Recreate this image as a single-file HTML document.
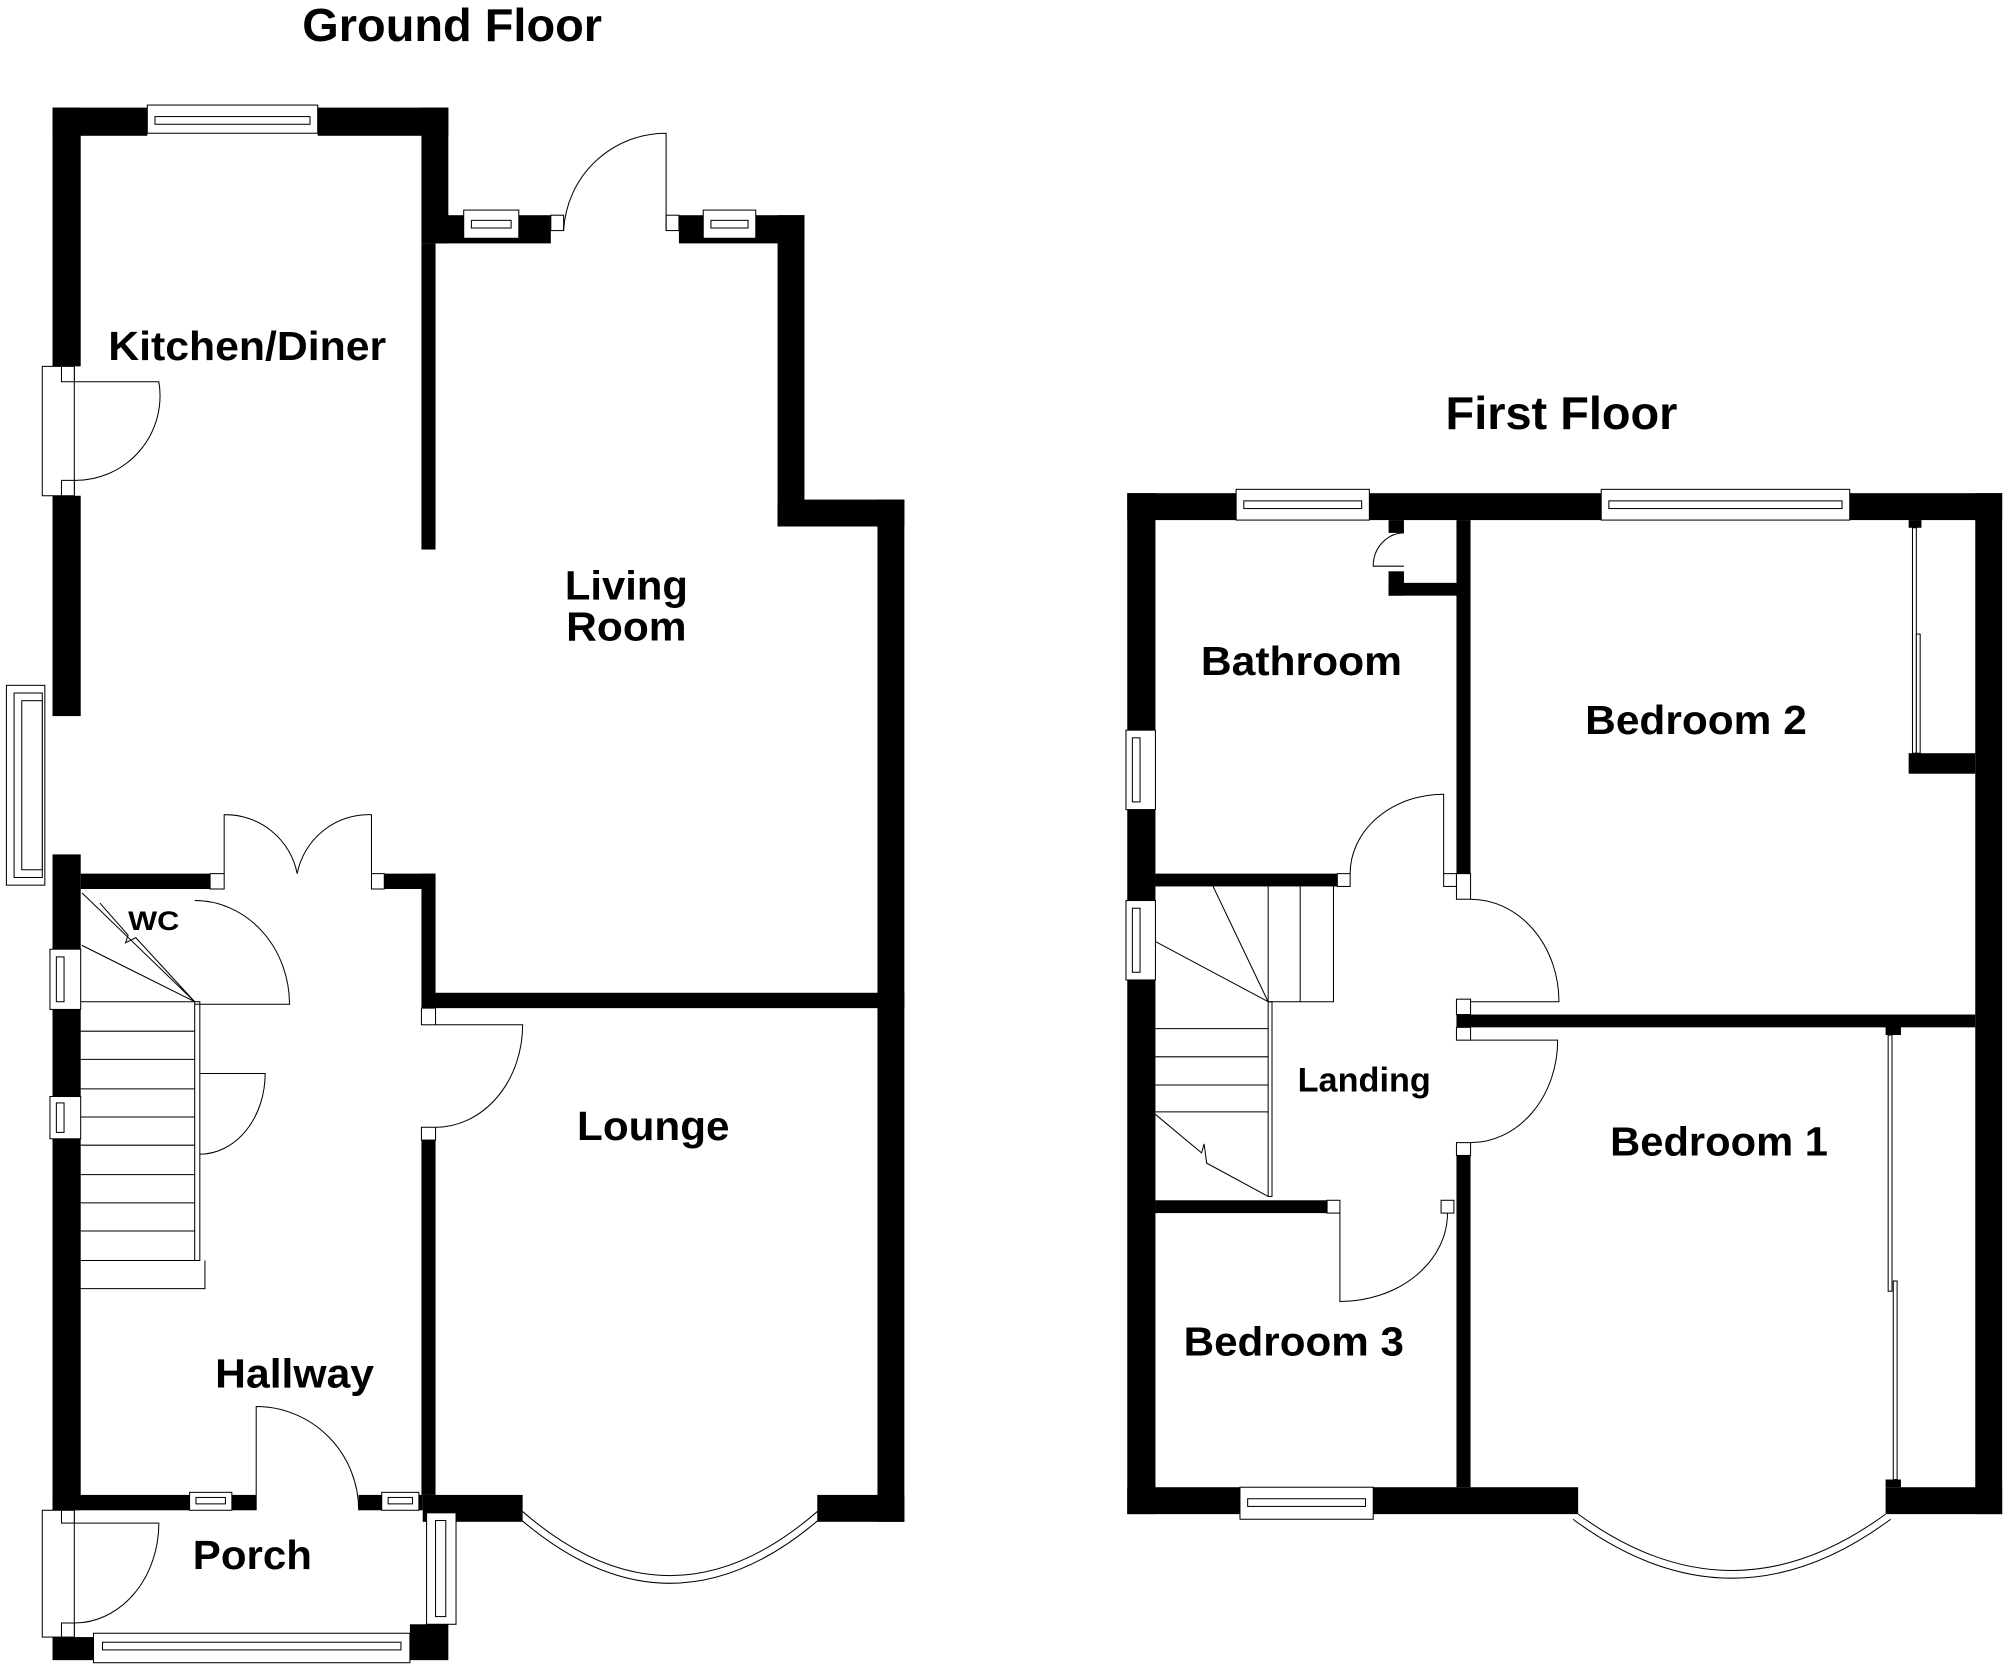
<!DOCTYPE html>
<html><head><meta charset="utf-8"><style>
html,body{margin:0;padding:0;background:#fff}
svg{display:block}
text{font-family:"Liberation Sans",Arial,sans-serif;font-weight:bold;fill:#000}
</style></head><body>
<svg width="2006" height="1664" viewBox="0 0 1566 1299" xmlns="http://www.w3.org/2000/svg">
<g fill="#000">
<rect x="41" y="84" width="74" height="22"/>
<rect x="248" y="84" width="102" height="22"/>
<rect x="41" y="84" width="22" height="202"/>
<rect x="41" y="387" width="22" height="172"/>
<rect x="41" y="667" width="22" height="512"/>
<rect x="329" y="84" width="21" height="106"/>
<rect x="329" y="190" width="11" height="239"/>
<rect x="340" y="168" width="90" height="22"/>
<rect x="530" y="168" width="98" height="22"/>
<rect x="607" y="168" width="21" height="243"/>
<rect x="607" y="390" width="99" height="21"/>
<rect x="685" y="390" width="21" height="798"/>
<rect x="63" y="682" width="102" height="12"/>
<rect x="300" y="682" width="40" height="12"/>
<rect x="329" y="682" width="11" height="105"/>
<rect x="340" y="775" width="366" height="12"/>
<rect x="329" y="880" width="11" height="287"/>
<rect x="41" y="1167" width="159" height="12"/>
<rect x="280" y="1167" width="50" height="12"/>
<rect x="330" y="1167" width="78" height="21"/>
<rect x="638" y="1167" width="68" height="21"/>
<rect x="41" y="1278" width="32" height="18"/>
<rect x="320" y="1268" width="30" height="28"/>
<rect x="880" y="385" width="85" height="21"/>
<rect x="1069" y="385" width="181" height="21"/>
<rect x="1444" y="385" width="119" height="21"/>
<rect x="880" y="385" width="22" height="797"/>
<rect x="1542" y="385" width="21" height="797"/>
<rect x="1137" y="406" width="11" height="276"/>
<rect x="1084" y="406" width="12" height="10"/>
<rect x="1084" y="446" width="12" height="19"/>
<rect x="1084" y="455" width="54" height="10"/>
<rect x="902" y="682" width="143" height="10"/>
<rect x="1137" y="792" width="405" height="10"/>
<rect x="1137" y="902" width="11" height="259"/>
<rect x="902" y="937" width="134" height="10"/>
<rect x="880" y="1161" width="352" height="21"/>
<rect x="1472" y="1161" width="91" height="21"/>
<rect x="1490" y="406" width="10" height="6"/>
<rect x="1490" y="588" width="52" height="16"/>
<rect x="1472" y="801" width="12" height="7"/>
<rect x="1472" y="1155" width="12" height="6"/>
</g>
<g fill="#fff" stroke="#000" stroke-width="0.8">
<rect x="115" y="82" width="133" height="22"/><rect x="121" y="91" width="121" height="6"/>
<rect x="362" y="164" width="43" height="22"/><rect x="368" y="172" width="31" height="6"/>
<rect x="549" y="164" width="41" height="22"/><rect x="555" y="172" width="29" height="6"/>
<rect x="430" y="168" width="10" height="12"/><rect x="520" y="168" width="10" height="12"/>
<rect x="33" y="286" width="25" height="101"/><rect x="48" y="286" width="10" height="12"/><rect x="48" y="375" width="10" height="12"/>
<rect x="5" y="535" width="30" height="156"/><rect x="11" y="541" width="22" height="144"/><rect x="17" y="547" width="16" height="132"/>
<rect x="39" y="741" width="24" height="47"/><rect x="44" y="747" width="6" height="35"/>
<rect x="39" y="856" width="24" height="33"/><rect x="44" y="861" width="6" height="23"/>
<rect x="164" y="682" width="11" height="12"/><rect x="290" y="682" width="10" height="12"/>
<rect x="148" y="1165" width="33" height="14"/><rect x="153" y="1169" width="23" height="5"/>
<rect x="298" y="1165" width="29" height="14"/><rect x="303" y="1169" width="19" height="5"/>
<rect x="329" y="787" width="11" height="13"/><rect x="329" y="880" width="11" height="10"/>
<rect x="33" y="1179" width="25" height="99"/><rect x="48" y="1179" width="10" height="10"/><rect x="48" y="1267" width="10" height="11"/>
<rect x="333" y="1181" width="23" height="87"/><rect x="340" y="1187" width="8" height="75"/>
<rect x="73" y="1275" width="247" height="23"/><rect x="80" y="1282" width="233" height="6"/>
<rect x="965" y="382" width="104" height="24"/><rect x="971" y="391" width="92" height="6"/>
<rect x="1250" y="382" width="194" height="24"/><rect x="1256" y="391" width="182" height="6"/>
<rect x="879" y="570" width="23" height="62"/><rect x="884" y="576" width="6" height="50"/>
<rect x="879" y="703" width="23" height="62"/><rect x="884" y="709" width="6" height="50"/>
<rect x="968" y="1161" width="104" height="25"/><rect x="974" y="1170" width="92" height="6"/>
<rect x="1044" y="682" width="10" height="10"/><rect x="1127" y="682" width="10" height="10"/>
<rect x="1137" y="682" width="11" height="20"/><rect x="1137" y="780" width="11" height="12"/>
<rect x="1137" y="802" width="11" height="10"/><rect x="1137" y="892" width="11" height="10"/>
<rect x="1036" y="937" width="10" height="10"/><rect x="1125" y="937" width="10" height="10"/>
<rect x="1493" y="412" width="3" height="176"/><rect x="1496" y="495" width="3" height="93"/>
<rect x="1474" y="808" width="3" height="200"/><rect x="1478" y="1000" width="3" height="155"/>
<rect x="152" y="782" width="4" height="202"/><rect x="990" y="782" width="3" height="152"/>
</g>
<g fill="none" stroke="#000" stroke-width="0.8">
<path d="M520 180 V104 A80 80 0 0 0 440 180"/>
<path d="M58 298 H124 A66 66 0 0 1 58 375" />
<path d="M175 682 V636 A57 57 0 0 1 232 682"/>
<path d="M290 682 V636 A57 57 0 0 0 232 682"/>
<path d="M152 703 A74 81 0 0 1 226 784 H152"/>
<path d="M340 800 H408 A68 80 0 0 1 340 880"/>
<path d="M156 838 H207 A51 63 0 0 1 156 901"/>
<path d="M200 1179 V1098 A80 81 0 0 1 280 1179"/>
<path d="M58 1189 H124 A66 78 0 0 1 58 1267"/>
<path d="M408 1180 Q523 1280 638 1180"/><path d="M404 1184 Q523 1288 642 1184"/>
<path d="M63 782H152 M63 805H152 M63 827H152 M63 850H152 M63 872H152 M63 894H152 M63 917H152 M63 939H152 M63 961H152 M63 984H152 M63 1006H160V984"/>
<path d="M64 697 L152 782 M64 738 L152 782"/>
<path d="M78 705 L100 730 L98 736 L106 732 L152 782"/>
<path d="M1096 416 A24 26 0 0 0 1072 442 H1096"/>
<path d="M1127 682 V620 A73 62 0 0 0 1054 682"/>
<path d="M1148 702 A69 80 0 0 1 1217 782 H1148"/>
<path d="M1148 812 H1216 A68 80 0 0 1 1148 892"/>
<path d="M1046 947 V1016 A84 69 0 0 0 1130 947"/>
<path d="M1232 1182 Q1352 1270 1472 1182"/><path d="M1228 1186 Q1352 1278 1476 1186"/>
<path d="M990 692 V782 M1015 692 V782 M1041 692 V782 H990"/>
<path d="M947 692 L990 782 M902 735 L990 782"/>
<path d="M902 803H990 M902 825H990 M902 847H990 M902 868H990"/>
<path d="M902 870 L938 900 L940 893 L942 908 L990 934"/>
</g>
<g>
<text x="353" y="32" font-size="36" text-anchor="middle" textLength="234" lengthAdjust="spacingAndGlyphs">Ground Floor</text>
<text x="193" y="281" font-size="32" text-anchor="middle" textLength="217" lengthAdjust="spacingAndGlyphs">Kitchen/Diner</text>
<text x="489" y="468" font-size="32" text-anchor="middle" textLength="96" lengthAdjust="spacingAndGlyphs">Living</text>
<text x="489" y="500" font-size="32" text-anchor="middle" textLength="94" lengthAdjust="spacingAndGlyphs">Room</text>
<text x="510" y="890" font-size="32" text-anchor="middle" textLength="119" lengthAdjust="spacingAndGlyphs">Lounge</text>
<text x="230" y="1083" font-size="32" text-anchor="middle" textLength="124" lengthAdjust="spacingAndGlyphs">Hallway</text>
<text x="197" y="1225" font-size="32" text-anchor="middle" textLength="93" lengthAdjust="spacingAndGlyphs">Porch</text>
<text x="120" y="726" font-size="21" text-anchor="middle" textLength="40" lengthAdjust="spacingAndGlyphs">WC</text>
<text x="1219" y="335" font-size="36" text-anchor="middle" textLength="181" lengthAdjust="spacingAndGlyphs">First Floor</text>
<text x="1016" y="527" font-size="32" text-anchor="middle" textLength="157" lengthAdjust="spacingAndGlyphs">Bathroom</text>
<text x="1324" y="573" font-size="32" text-anchor="middle" textLength="173" lengthAdjust="spacingAndGlyphs">Bedroom 2</text>
<text x="1065" y="852" font-size="27" text-anchor="middle" textLength="104" lengthAdjust="spacingAndGlyphs">Landing</text>
<text x="1342" y="902" font-size="32" text-anchor="middle" textLength="170" lengthAdjust="spacingAndGlyphs">Bedroom 1</text>
<text x="1010" y="1058" font-size="32" text-anchor="middle" textLength="172" lengthAdjust="spacingAndGlyphs">Bedroom 3</text>
</g>
</svg>
</body></html>
